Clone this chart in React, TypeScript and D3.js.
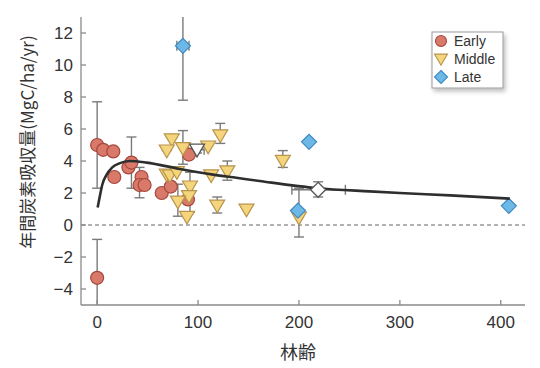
import * as d3 from "d3";

// age (years) and annual carbon uptake (MgC/ha/yr)
const earlyAge = [0, 6, 16, 17, 31, 34, 44, 42, 47, 64, 73, 91, 90, 0];
const earlyUptake = [5.0, 4.7, 4.6, 3.0, 3.6, 3.9, 3.0, 2.5, 2.5, 2.0, 2.4, 4.4, 1.6, -3.3];
// [age, low, high]
const earlyErr: [number, number, number][] = [
  [0, 2.3, 7.7],
  [34, 2.3, 5.5],
  [42, 1.7, 3.6],
  [0, -5.2, -0.9],
];

const middleAge = [74, 69, 85, 110, 122, 69, 72, 79, 129, 113, 92, 91, 80, 89, 119, 148, 184, 200];
const middleUptake = [5.35, 4.65, 4.8, 4.9, 5.6, 3.15, 3.1, 3.3, 3.35, 3.1, 2.4, 1.8, 1.45, 0.5, 1.2, 0.95, 4.0, 0.45];
const middleErr: [number, number, number][] = [
  [69, 4.65, 4.95],
  [85, 3.8, 5.9],
  [122, 5.1, 6.35],
  [129, 2.8, 4.0],
  [92, 0.8, 3.3],
  [80, 0.55, 2.55],
  [119, 0.75, 1.75],
  [184, 3.6, 4.65],
  [200, -0.75, 2.3],
];

const lateAge = [85, 210, 199, 408];
const lateUptake = [11.2, 5.2, 0.9, 1.2];
const lateErr: [number, number, number][] = [[85, 7.8, 13.5]];
const lateXErr: [number, number, number][] = [[11.2, 79, 91]];

// group means (hollow markers): [age, uptake, ageLo, ageHi, upLo, upHi]
const middleMean = [99, 4.7, 90, 106, 4.5, 4.9];
const lateMean = [219, 2.2, 193, 246, 1.75, 2.7];

// fitted curve
const fitAge = [0.5, 3, 5, 9, 15, 22, 32, 49, 82, 115, 138, 161, 218, 270, 300, 350, 409];
const fitUptake = [1.1, 1.9, 2.5, 3.1, 3.6, 3.85, 4.0, 3.9, 3.5, 3.15, 2.95, 2.75, 2.3, 2.1, 2.0, 1.85, 1.65];

const xTicks = [0, 100, 200, 300, 400];
const yTicks = [-4, -2, 0, 2, 4, 6, 8, 10, 12];

const RED = { fill: "#d8796a", stroke: "#a5473c" };
const YEL = { fill: "#f5d57c", stroke: "#b8944f" };
const BLU = { fill: "#6cb8e6", stroke: "#3f87bf" };
const ERR = "#7a7a7a";
const AXIS = "#8a8a8a";
const FONT = "Liberation Sans, Arial, sans-serif";

const tri = (cx: number, cy: number, s = 7.5) =>
  `M${cx - s},${cy - s * 0.75}L${cx + s},${cy - s * 0.75}L${cx},${cy + s * 0.95}Z`;
const dia = (cx: number, cy: number, s = 7.5) =>
  `M${cx},${cy - s}L${cx + s},${cy}L${cx},${cy + s}L${cx - s},${cy}Z`;

export default function App() {
  const width = 540;
  const height = 368;
  const x = d3.scaleLinear().domain([-16, 424]).range([81, 525]);
  const y = d3.scaleLinear().domain([-5, 13]).range([305, 17]);

  const line = d3
    .line<number>()
    .x((_, i) => x(fitAge[i]))
    .y((d) => y(d))
    .curve(d3.curveMonotoneX);

  const clipY = (v: number) => Math.max(y(13), Math.min(y(-5), y(v)));

  const vBar = (key: string, a: number, lo: number, hi: number) => {
    const px = x(a);
    const y1 = clipY(hi);
    const y0 = clipY(lo);
    return (
      <g key={key} stroke={ERR} strokeWidth={1.4}>
        <line x1={px} x2={px} y1={y1} y2={y0} />
        {hi < 13 && <line x1={px - 5} x2={px + 5} y1={y1} y2={y1} />}
        {lo > -5 && <line x1={px - 5} x2={px + 5} y1={y0} y2={y0} />}
      </g>
    );
  };
  const hBar = (key: string, v: number, lo: number, hi: number) => {
    const py = y(v);
    return (
      <g key={key} stroke={ERR} strokeWidth={1.4}>
        <line x1={x(lo)} x2={x(hi)} y1={py} y2={py} />
        <line x1={x(lo)} x2={x(lo)} y1={py - 5} y2={py + 5} />
        <line x1={x(hi)} x2={x(hi)} y1={py - 5} y2={py + 5} />
      </g>
    );
  };

  return (
    <svg
      width={width}
      height={height}
      style={{ position: "absolute", left: 0, top: 0, background: "#fff" }}
      fontFamily={FONT}
    >
      <defs>
        <filter id="sh" x="-20%" y="-20%" width="150%" height="150%">
          <feDropShadow dx="2" dy="3" stdDeviation="2" floodColor="#000" floodOpacity="0.25" />
        </filter>
      </defs>

      {/* zero line */}
      <line x1={81} x2={525} y1={y(0)} y2={y(0)} stroke="#666" strokeDasharray="4,3" strokeWidth={1} />

      {/* error bars */}
      {earlyErr.map((d, i) => vBar("e" + i, d[0], d[1], d[2]))}
      {middleErr.map((d, i) => vBar("m" + i, d[0], d[1], d[2]))}
      {lateErr.map((d, i) => vBar("l" + i, d[0], d[1], d[2]))}
      {lateXErr.map((d, i) => hBar("lx" + i, d[0], d[1], d[2]))}
      {hBar("mmx", middleMean[1], middleMean[2], middleMean[3])}
      {vBar("mmy", middleMean[0], middleMean[4], middleMean[5])}
      {hBar("lmx", lateMean[1], lateMean[2], lateMean[3])}
      {vBar("lmy", lateMean[0], lateMean[4], lateMean[5])}

      {/* markers */}
      {earlyAge.map((a, i) => (
        <circle key={"ec" + i} cx={x(a)} cy={y(earlyUptake[i])} r={6.5} fill={RED.fill} stroke={RED.stroke} strokeWidth={1.2} />
      ))}
      {middleAge.map((a, i) => (
        <path key={"mt" + i} d={tri(x(a), y(middleUptake[i]))} fill={YEL.fill} stroke={YEL.stroke} strokeWidth={1.2} />
      ))}
      {lateAge.map((a, i) => (
        <path key={"ld" + i} d={dia(x(a), y(lateUptake[i]))} fill={BLU.fill} stroke={BLU.stroke} strokeWidth={1.2} />
      ))}

      {/* fitted curve */}
      <path d={line(fitUptake) ?? ""} fill="none" stroke="#2e2e2e" strokeWidth={2.6} />

      {/* group means */}
      <path d={tri(x(middleMean[0]), y(middleMean[1]))} fill="#fff" stroke="#555" strokeWidth={1.3} />
      <path d={dia(x(lateMean[0]), y(lateMean[1]))} fill="#fff" stroke="#555" strokeWidth={1.3} />

      {/* axes */}
      <line x1={81} x2={81} y1={17} y2={305} stroke={AXIS} strokeWidth={1.3} />
      <line x1={81} x2={525} y1={305} y2={305} stroke={AXIS} strokeWidth={1.3} />
      {yTicks.map((t) => (
        <g key={"yt" + t}>
          <line x1={81} x2={86} y1={y(t)} y2={y(t)} stroke={AXIS} strokeWidth={1.3} />
          <text x={73} y={y(t)} dy="0.36em" textAnchor="end" fontSize={17} fill="#333">
            {t < 0 ? "\u2212" + Math.abs(t) : t}
          </text>
        </g>
      ))}
      {xTicks.map((t) => (
        <g key={"xt" + t}>
          <line x1={x(t)} x2={x(t)} y1={305} y2={300} stroke={AXIS} strokeWidth={1.3} />
          <text x={x(t)} y={328} textAnchor="middle" fontSize={17} fill="#333">
            {t}
          </text>
        </g>
      ))}

      <text x={298} y={359} textAnchor="middle" fontSize={18} fill="#333" fontFamily="Noto Sans CJK JP, sans-serif">
        林齢
      </text>
      <text
        transform={`translate(34,${142}) rotate(-90)`}
        textAnchor="middle"
        fontSize={17}
        fill="#333"
        fontFamily="Noto Sans CJK JP, sans-serif"
      >
        年間炭素吸収量(MgC/ha/yr)
      </text>

      {/* legend */}
      <g>
        <rect x={432} y={32} width={71} height={56} fill="#fff" stroke="#9a9a9a" strokeWidth={1} filter="url(#sh)" />
        <circle cx={441} cy={41} r={5.5} fill={RED.fill} stroke={RED.stroke} strokeWidth={1.1} />
        <text x={454} y={41} dy="0.36em" fontSize={14} fill="#333">Early</text>
        <path d={tri(441, 59, 6.5)} fill={YEL.fill} stroke={YEL.stroke} strokeWidth={1.1} />
        <text x={454} y={59} dy="0.36em" fontSize={14} fill="#333">Middle</text>
        <path d={dia(441, 77, 6.5)} fill={BLU.fill} stroke={BLU.stroke} strokeWidth={1.1} />
        <text x={454} y={77} dy="0.36em" fontSize={14} fill="#333">Late</text>
      </g>
    </svg>
  );
}
